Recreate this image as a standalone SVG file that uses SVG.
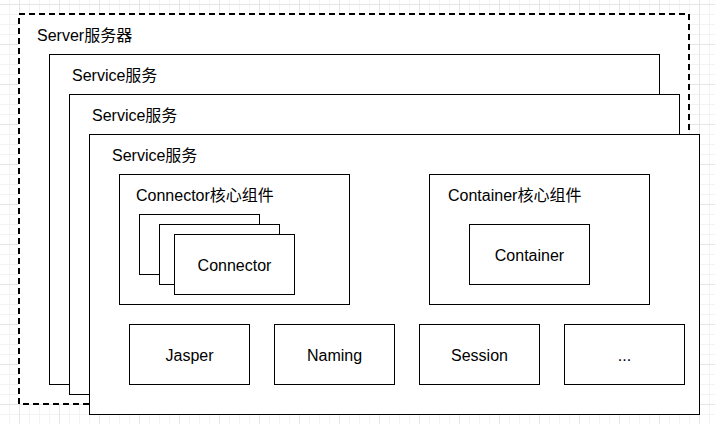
<svg xmlns="http://www.w3.org/2000/svg" width="715" height="424" viewBox="0 0 715 424">
<style>
  .box { fill: #ffffff; stroke: #000000; stroke-width: 1; }
  .dash { fill: #ffffff; stroke: #000000; stroke-width: 2; stroke-dasharray: 6 4; }
  text { font-family: "Liberation Sans", "Noto Sans CJK SC", sans-serif; font-size: 16px; fill: #000000; }
  .c { text-anchor: middle; }
</style>
<defs>
  <pattern id="minor" width="10" height="10" patternUnits="userSpaceOnUse" x="9" y="4">
    <path d="M0.5 0 V10 M0 0.5 H10" fill="none" stroke="#f3f3f3" stroke-width="1"/>
  </pattern>
  <pattern id="major" width="40" height="40" patternUnits="userSpaceOnUse" x="19" y="4">
    <path d="M0.5 0 V40 M0 0.5 H40" fill="none" stroke="#e6e6e6" stroke-width="1"/>
  </pattern>
</defs>
<rect width="715" height="424" fill="#ffffff"/>
<rect width="715" height="424" fill="url(#minor)"/>
<rect width="715" height="424" fill="url(#major)"/>

<g id="server">
  <rect class="dash" x="19" y="14" width="670" height="390"/>
  <text x="37" y="41">Server服务器</text>
</g>
<g id="service1">
  <rect class="box" x="49.5" y="54.5" width="610" height="330"/>
  <text x="72" y="81">Service服务</text>
</g>
<g id="service2">
  <rect class="box" x="69.5" y="94.5" width="610" height="300"/>
  <text x="92" y="121">Service服务</text>
</g>
<g id="service3">
  <rect class="box" x="89.5" y="134.5" width="610" height="280"/>
  <text x="112" y="161">Service服务</text>
</g>
<g id="connector-group">
  <rect class="box" x="119.5" y="174.5" width="230" height="130"/>
  <text x="136" y="201">Connector核心组件</text>
</g>
<g id="connector-a">
  <rect class="box" x="139.5" y="214.5" width="120" height="60"/>
</g>
<g id="connector-b">
  <rect class="box" x="159.5" y="224.5" width="120" height="60"/>
</g>
<g id="connector-c">
  <rect class="box" x="174.5" y="234.5" width="120" height="60"/>
  <text class="c" x="234.5" y="271">Connector</text>
</g>
<g id="container-group">
  <rect class="box" x="429.5" y="174.5" width="220" height="130"/>
  <text x="448" y="201">Container核心组件</text>
</g>
<g id="container">
  <rect class="box" x="469.5" y="224.5" width="120" height="60"/>
  <text class="c" x="529.5" y="261">Container</text>
</g>
<g id="jasper">
  <rect class="box" x="129.5" y="324.5" width="120" height="60"/>
  <text class="c" x="189.5" y="361">Jasper</text>
</g>
<g id="naming">
  <rect class="box" x="274.5" y="324.5" width="120" height="60"/>
  <text class="c" x="334.5" y="361">Naming</text>
</g>
<g id="session">
  <rect class="box" x="419.5" y="324.5" width="120" height="60"/>
  <text class="c" x="479.5" y="361">Session</text>
</g>
<g id="more">
  <rect class="box" x="564.5" y="324.5" width="120" height="60"/>
  <text class="c" x="624.5" y="361">...</text>
</g>
<g id="connectors"></g>
</svg>
